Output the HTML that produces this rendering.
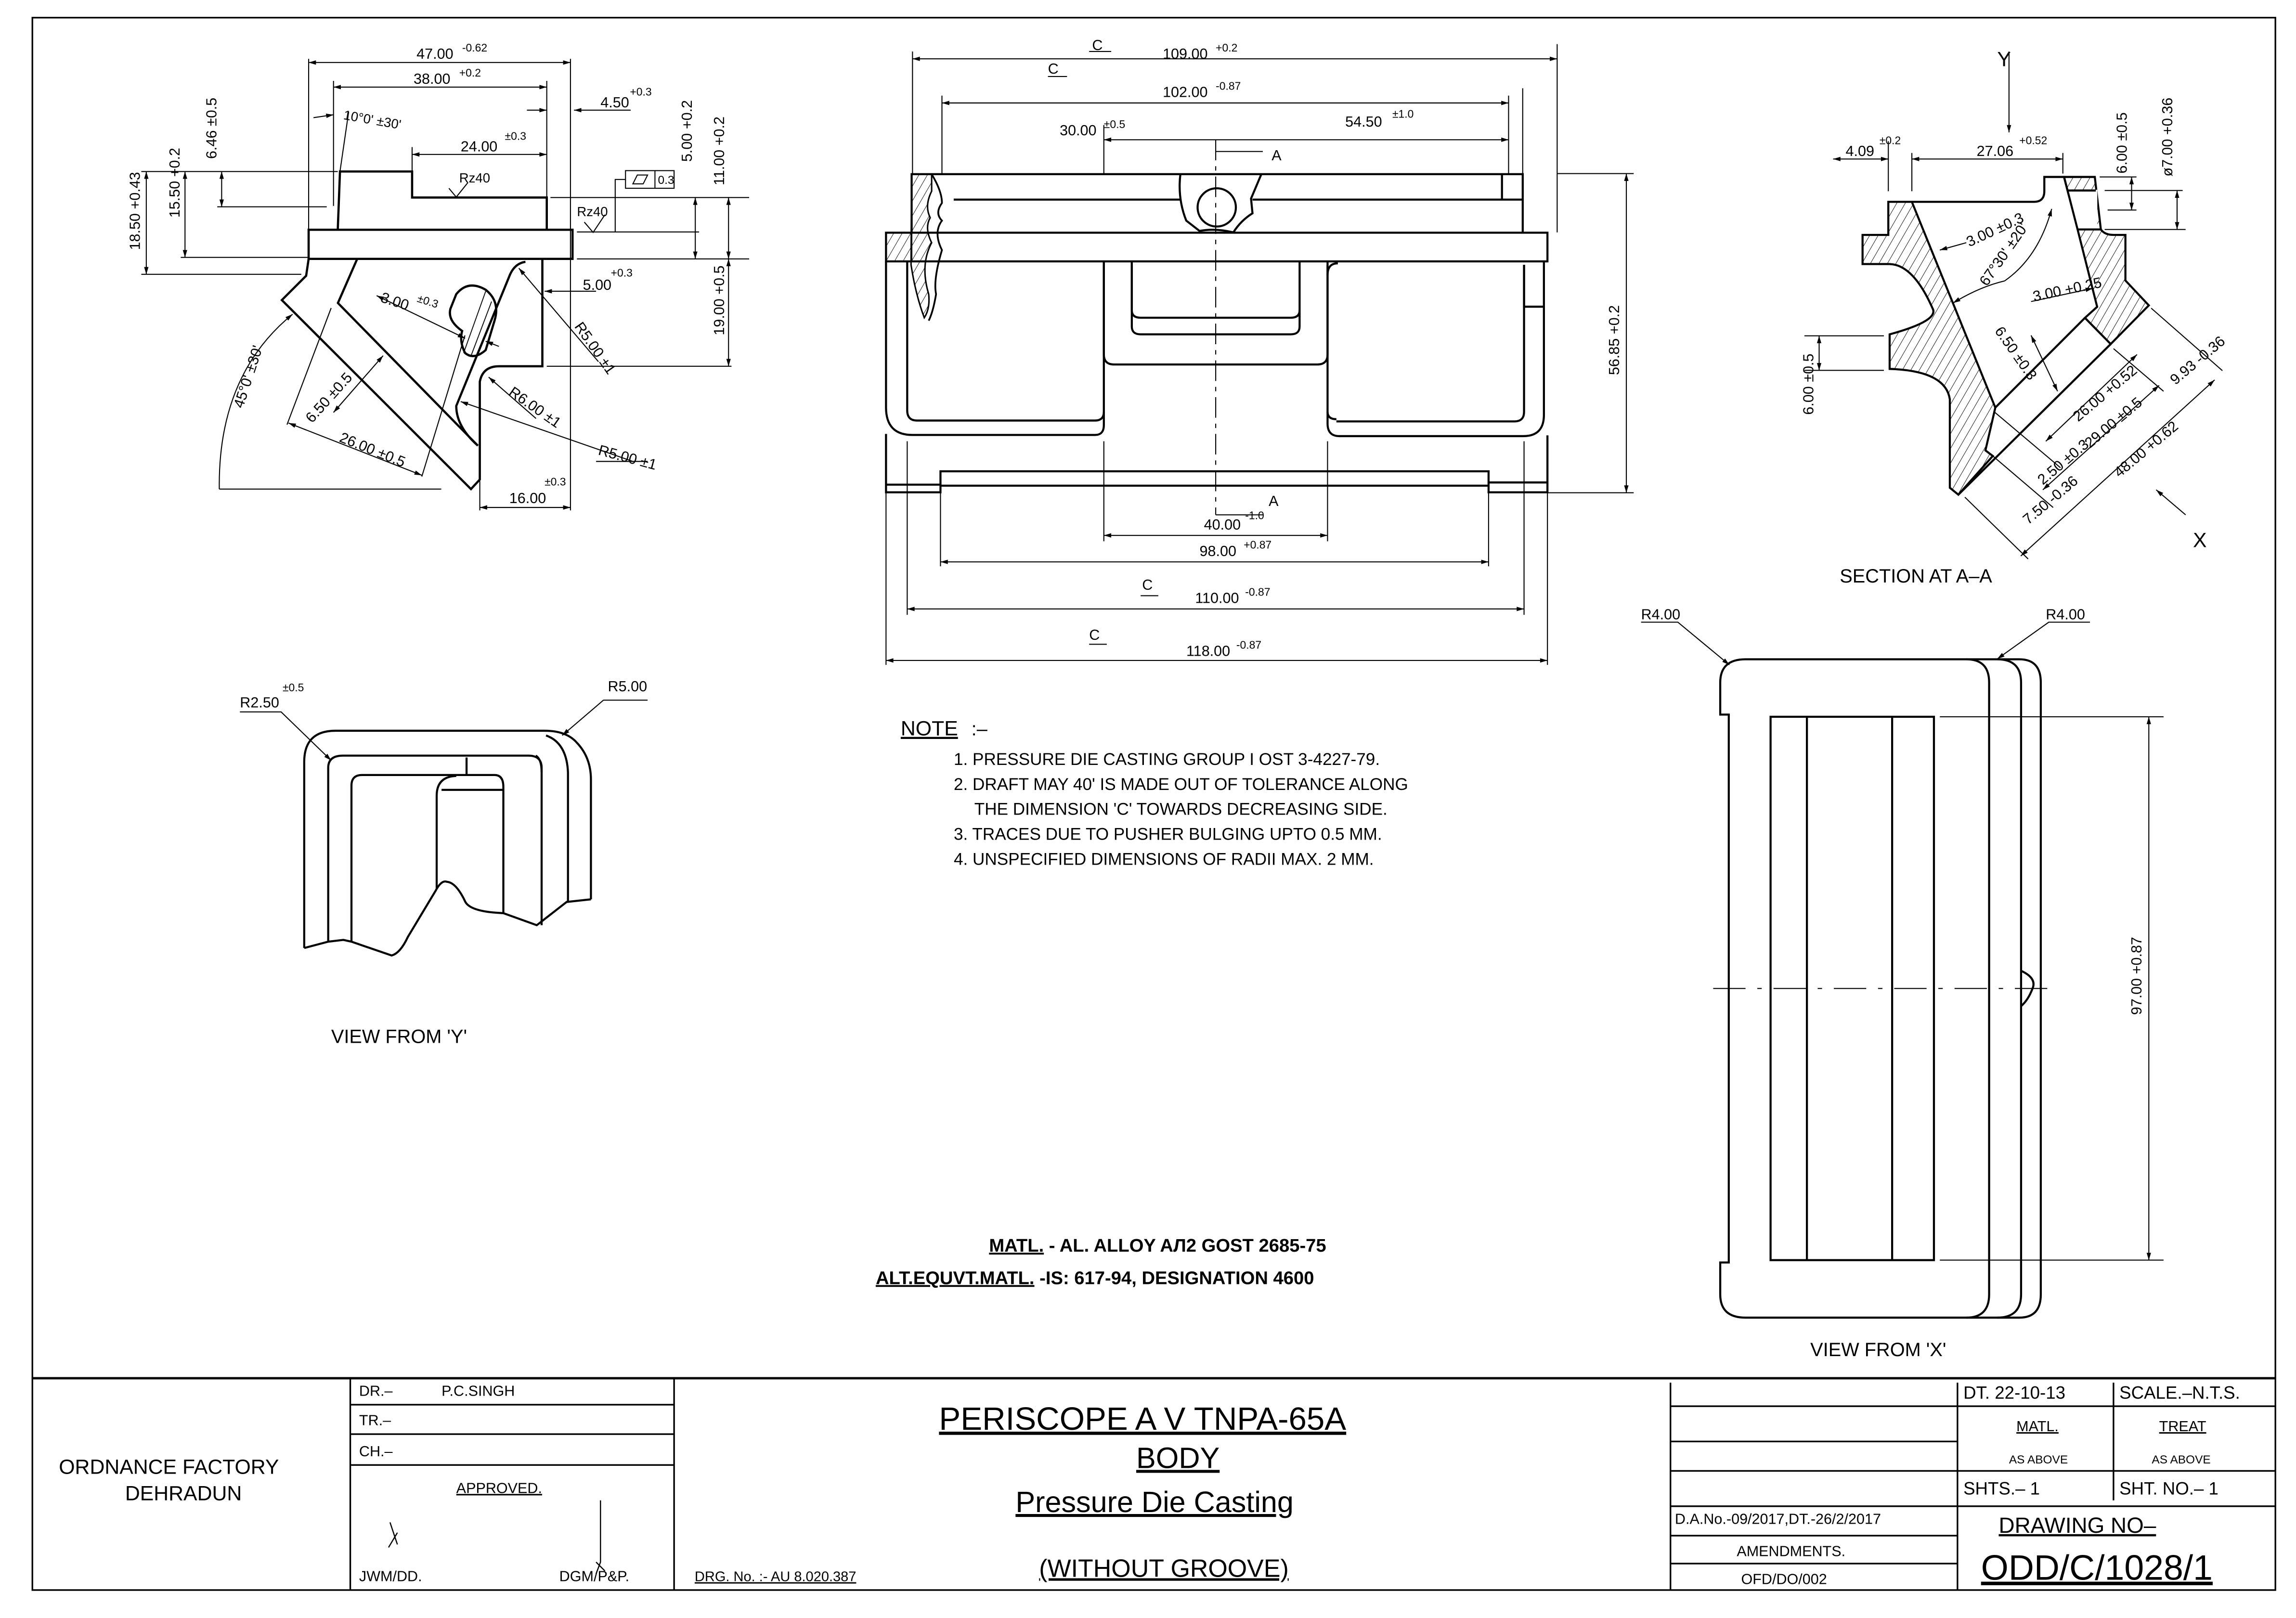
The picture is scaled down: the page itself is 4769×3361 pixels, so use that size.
<!DOCTYPE html>
<html><head><meta charset="utf-8"><style>
html,body{margin:0;padding:0;background:#fff;}
svg{display:block;}
text{font-family:"Liberation Sans",sans-serif;fill:#000;}
</style></head><body>
<svg width="4769" height="3361" viewBox="0 0 1560 1100" preserveAspectRatio="none" xmlns="http://www.w3.org/2000/svg">
<defs>
<marker id="a" viewBox="0 0 10 6" refX="10" refY="3" markerWidth="7" markerHeight="3" markerUnits="userSpaceOnUse" orient="auto-start-reverse"><path d="M0,0 L10,3 L0,6 z" fill="#000"/></marker>
<pattern id="h" width="5" height="5" patternUnits="userSpaceOnUse" patternTransform="rotate(30)"><line x1="0" y1="0" x2="0" y2="5" stroke="#000" stroke-width="0.6"/></pattern>
</defs>
<rect x="0" y="0" width="1560" height="1100" fill="#fff"/>
<g fill="none" stroke="#000" stroke-width="1.1">
<!-- frame -->
<rect x="22" y="12" width="1524" height="1069"/>
<line x1="22" y1="937" x2="1546" y2="937" stroke-width="1.6"/>
<line x1="238" y1="937" x2="238" y2="1081"/>
<line x1="458" y1="937" x2="458" y2="1081"/>
<line x1="1135" y1="940" x2="1135" y2="1081"/>
<line x1="1330" y1="940" x2="1330" y2="1081"/>
<line x1="1436" y1="940" x2="1436" y2="1020"/>
<line x1="238" y1="955" x2="458" y2="955"/>
<line x1="238" y1="975" x2="458" y2="975"/>
<line x1="238" y1="996" x2="458" y2="996"/>
<line x1="1135" y1="956" x2="1546" y2="956"/>
<line x1="1135" y1="980" x2="1330" y2="980"/>
<line x1="1135" y1="1000" x2="1546" y2="1000"/>
<line x1="1135" y1="1024" x2="1546" y2="1024"/>
<line x1="1135" y1="1044" x2="1330" y2="1044"/>
<line x1="1135" y1="1063" x2="1330" y2="1063"/>
<path d="M265,1035 l5,15 M270,1042 l-6,10" stroke-width="0.8"/>
<path d="M408,1020 V1062 l-3,8 M405,1062 l6,6" stroke-width="0.8"/>

<!-- ===== top-left view ===== -->
<g stroke-width="1.5">
<path d="M229.5,156 L231,116.6 H280 V134.3 H371.5 V156"/>
<rect x="209.7" y="156.2" width="179.3" height="19.8"/>
<path d="M209.7,176 L208,187.5 L191.5,204 L320,332.5 L326,326 V259.5 Q328,249 339,249 H368.5 V176.5"/>
<path d="M242.7,176 L229.6,206 L324.7,303 Q310,290 310,276 L346.6,186.5 Q350,179 357,178"/>
<path d="M310,200 Q318,190 330,197 Q340,205 336,218 L330,238 Q322,245 316,240 Q312,232 314,225 Q304,218 306,210 Z"/>
</g>
<line x1="330" y1="198" x2="315" y2="240" stroke-width="0.6"/>
<line x1="334" y1="205" x2="320" y2="242" stroke-width="0.6"/>
<g stroke-width="0.7">
<line x1="209.7" y1="40" x2="209.7" y2="156"/><line x1="387.6" y1="40" x2="387.6" y2="347"/>
<line x1="226.6" y1="55" x2="226.6" y2="140"/><line x1="371.5" y1="55" x2="371.5" y2="134"/>
<line x1="280" y1="100" x2="280" y2="116"/>
<line x1="96" y1="116.6" x2="229.5" y2="116.6"/><line x1="147.6" y1="140.6" x2="222" y2="140.6"/>
<line x1="122.8" y1="175" x2="209" y2="175"/><line x1="96" y1="186.5" x2="204.7" y2="186.5"/>
<line x1="374" y1="134.3" x2="509" y2="134.3"/><line x1="392" y1="157.7" x2="475" y2="157.7"/>
<line x1="392" y1="176" x2="509" y2="176"/><line x1="371.5" y1="249" x2="497" y2="249"/>
<line x1="326" y1="327" x2="326" y2="347"/>
<line x1="149" y1="332.5" x2="299.8" y2="332.5"/>
<line x1="195" y1="288.7" x2="225" y2="209.4"/><line x1="286.6" y1="324" x2="315.9" y2="228"/>
<line x1="231" y1="116.6" x2="236.9" y2="76"/>
<rect x="425" y="116" width="33" height="12"/><line x1="445" y1="116" x2="445" y2="128"/>
<path d="M430,125 l3,-6 h7 l-3,6 z"/>
<path d="M425,122 H418 V157.7"/>
<path d="M305,128 l5,6 l8,-10 M397,151 l6,7 l8,-12"/>
</g>
<g stroke-width="0.7" marker-start="url(#a)" marker-end="url(#a)">
<line x1="209.7" y1="42.5" x2="387.6" y2="42.5"/>
<line x1="226.6" y1="59.2" x2="371.5" y2="59.2"/>
<line x1="280" y1="105" x2="371.5" y2="105"/>
<line x1="99.4" y1="116.6" x2="99.4" y2="186.5"/>
<line x1="125.7" y1="116.6" x2="125.7" y2="175"/>
<line x1="150.6" y1="116.6" x2="150.6" y2="140.6"/>
<line x1="472.4" y1="134.3" x2="472.4" y2="176"/>
<line x1="495" y1="134.3" x2="495" y2="176"/>
<line x1="495" y1="176" x2="495" y2="249"/>
<line x1="326" y1="345" x2="387.6" y2="345"/>
<line x1="196" y1="287.6" x2="286.6" y2="323.1"/>
<line x1="226.6" y1="280.4" x2="260.3" y2="241.8"/>
<line x1="255.9" y1="201" x2="316" y2="230"/>
</g>
<g stroke-width="0.7" marker-end="url(#a)">
<line x1="428.5" y1="74.9" x2="390" y2="74.9"/><line x1="358" y1="74.9" x2="371.5" y2="74.9"/>
<line x1="213" y1="80" x2="226.6" y2="78"/>
<line x1="406.6" y1="245.9" x2="352.5" y2="182.3"/>
<line x1="364.2" y1="284.5" x2="332" y2="256.4"/>
<line x1="430" y1="313.7" x2="313" y2="273"/>
<line x1="405" y1="198" x2="370" y2="198"/>
<path d="M149,332.5 Q148,255 198.8,213.6"/>
<line x1="339" y1="235.5" x2="330" y2="232"/>
</g>
<line x1="405" y1="313.7" x2="440" y2="313.7" stroke-width="0.7"/>

<!-- ===== center view ===== -->
<g stroke-width="1.4">
<path d="M619.4,158.2 V118.4 H1034.6 V158.2"/>
<path d="M648,135.7 H802 M851,135.7 H1034.6"/>
<line x1="1020.5" y1="118.4" x2="1020.5" y2="135.7"/>
<rect x="602" y="158.2" width="449.4" height="19.5"/>
<path d="M802,118.4 Q800,135 806,150 L815,157 Q826,155 838,158 Q843,150 851,145 L850,135 Q853,128 857,118.4"/>
<ellipse cx="826.7" cy="141" rx="13" ry="13"/>
<path d="M602,177.7 V277 Q602,295.7 620,295.7 H744 Q750,295.7 750,289 V177.7"/>
<path d="M616.4,177.7 V279 Q616.4,285.9 623,285.9 H744 Q750,285.9 750,280"/>
<path d="M750,177.7 V241 Q750,247.8 757,247.8 H895 Q902,247.8 902,241 V177.7"/>
<path d="M769,177.7 V222 Q769,227.3 775,227.3 H877 Q883,227.3 883,222 V177.7"/>
<path d="M769,177.7 V211 Q769,216 775,216 H877 Q883,216 883,211"/>
<path d="M902,180 V288 Q902,296.5 910,296.5 H1035 Q1049,296.5 1049,282 V177.7"/>
<path d="M902,187 Q902,179 909,179 M908,285 Q902,285 902,280 M908,286.5 H1029 Q1035.5,286.5 1035.5,280 V180"/>
<path d="M1035.5,180 V208.5 H1049"/>
<path d="M602,295 V334.7 H639 V320.4 H1011.4 V334.7 H1051.4 V296"/>
<line x1="602" y1="329.5" x2="639" y2="329.5"/><line x1="639" y1="330.2" x2="1011.4" y2="330.2"/>
<line x1="1011.4" y1="328" x2="1051.4" y2="328"/>
</g>
<path d="M619.4,118.4 H633 V130 Q628,140 632,148 Q628,155 633,165 Q625,180 631,200 Q632,210 628,216 Q622,200 619,180 Z M602,158.2 H619.4 V177.7 H602 Z" fill="url(#h)" stroke="#000" stroke-width="1"/>
<path d="M633,118.4 Q640,130 640,138 Q635,145 640,150 Q634,158 640,170 Q634,190 636,200 Q634,212 631,218" stroke-width="1.2"/>
<line x1="826" y1="95" x2="826" y2="350" stroke-dasharray="14,4,3,4" stroke-width="0.7"/>
<g stroke-width="0.7">
<line x1="620" y1="35" x2="620" y2="118"/><line x1="1034.6" y1="60" x2="1034.6" y2="118"/>
<line x1="1058" y1="30" x2="1058" y2="158"/><line x1="640" y1="65" x2="640" y2="118"/>
<line x1="750" y1="85" x2="750" y2="118"/><line x1="1025" y1="65" x2="1025" y2="118"/>
<line x1="1051.4" y1="335" x2="1110" y2="335"/><line x1="1058" y1="118" x2="1110" y2="118"/>
<line x1="639" y1="335" x2="639" y2="385"/><line x1="1011.4" y1="335" x2="1011.4" y2="385"/>
<line x1="616.4" y1="300" x2="616.4" y2="418"/><line x1="1035.5" y1="300" x2="1035.5" y2="418"/>
<line x1="602" y1="335" x2="602" y2="452"/><line x1="1051.4" y1="335" x2="1051.4" y2="452"/>
<line x1="750" y1="300" x2="750" y2="368"/><line x1="902" y1="300" x2="902" y2="368"/>
<line x1="826" y1="350" x2="858" y2="350"/><line x1="826" y1="103" x2="858" y2="103"/>
<line x1="740" y1="35" x2="755" y2="35"/><line x1="712" y1="52" x2="725" y2="52"/>
<line x1="775" y1="405" x2="787" y2="405"/><line x1="740" y1="438" x2="752" y2="438"/>
</g>
<g stroke-width="0.7" marker-start="url(#a)" marker-end="url(#a)">
<line x1="620" y1="40" x2="1058" y2="40"/>
<line x1="640" y1="70" x2="1025" y2="70"/>
<line x1="750" y1="95" x2="1025" y2="95"/>
<line x1="1105" y1="118" x2="1105" y2="335"/>
<line x1="750" y1="364" x2="902" y2="364"/>
<line x1="639" y1="382" x2="1011.4" y2="382"/>
<line x1="616.4" y1="414" x2="1035.5" y2="414"/>
<line x1="602" y1="449" x2="1051.4" y2="449"/>
</g>

<!-- ===== section A-A ===== -->
<path d="M1283,137.2 H1299 L1355.7,277.1 L1349,306.2 L1354,310 L1330.6,336.3 L1324.8,331.6 V271.5 Q1322,252 1283.9,250.8 V227.3 Q1318,218 1313,209.5 Q1300,180 1283.9,179.5 H1265.5 V159.7 H1283 Z" fill="url(#h)" stroke-width="1.4"/>
<path d="M1402.4,120.3 H1423.3 L1427.4,156 Q1430,159.7 1436,159.7 H1444.1 V190.7 L1460,207.6 L1434.1,233.9 L1416.6,216.1 L1424.9,208.6 L1411.6,156 Z" fill="url(#h)" stroke-width="1.4"/>
<rect x="1405" y="129" width="20" height="27" fill="#fff" stroke="none"/>
<g stroke-width="1.4">
<path d="M1299,137.2 H1382 Q1389,137.2 1389,130 V120.3 H1402.4 L1411.6,156"/>
<line x1="1405" y1="129.5" x2="1424" y2="129.5"/><line x1="1411.6" y1="156" x2="1427.4" y2="156"/>
<path d="M1416.6,216.1 L1355.7,277.1 M1434.1,233.9 L1330.6,336.3"/>
</g>
<g stroke-width="0.7">
<line x1="1283" y1="96" x2="1283" y2="130"/><line x1="1299" y1="104" x2="1299" y2="130"/><line x1="1401.6" y1="104" x2="1401.6" y2="118"/>
<line x1="1426.6" y1="120.3" x2="1451.6" y2="120.3"/><line x1="1432" y1="142.8" x2="1451.6" y2="142.8"/>
<line x1="1430" y1="129.5" x2="1483" y2="129.5"/><line x1="1430" y1="156" x2="1485" y2="156"/>
<line x1="1226" y1="228.3" x2="1280" y2="228.3"/><line x1="1226" y1="251.8" x2="1280" y2="251.8"/>
<line x1="1461.6" y1="209.5" x2="1510" y2="252"/><line x1="1436" y1="237" x2="1470" y2="266"/>
<line x1="1335" y1="338" x2="1378" y2="380"/><line x1="1355" y1="280" x2="1400" y2="318"/>
<line x1="1354" y1="310" x2="1395" y2="345"/>
<line x1="1365" y1="35" x2="1365" y2="90" marker-end="url(#a)"/>
<line x1="1485" y1="350" x2="1465" y2="333" marker-end="url(#a)"/>
<path d="M1362,191 Q1385,175 1394,142" marker-end="url(#a)"/>
<path d="M1362,191 Q1345,195 1327,206" marker-end="url(#a)"/>
<line x1="1336" y1="165" x2="1318" y2="170" marker-end="url(#a)"/>
<line x1="1380" y1="205" x2="1422" y2="196" marker-end="url(#a)"/>
</g>
<g stroke-width="0.7" marker-start="url(#a)" marker-end="url(#a)">
<line x1="1245.5" y1="108.1" x2="1283" y2="108.1"/>
<line x1="1299" y1="108.1" x2="1401.6" y2="108.1"/>
<line x1="1448.3" y1="120.3" x2="1448.3" y2="142.8"/>
<line x1="1479.2" y1="129.5" x2="1479.2" y2="156"/>
<line x1="1236" y1="228.3" x2="1236" y2="251.8"/>
<line x1="1504.7" y1="258.3" x2="1373" y2="378"/>
<line x1="1467" y1="262" x2="1388" y2="333"/>
<line x1="1452" y1="241" x2="1390" y2="300"/>
<line x1="1380" y1="228" x2="1398" y2="266"/>
</g>

<!-- ===== view X ===== -->
<g stroke-width="1.4">
<path d="M1174.6,485.8 H1168.8 V464 Q1168.8,448.2 1186,448.2 H1336 Q1351.5,448.2 1351.5,464 V880 Q1351.5,895.8 1336,895.8 H1186 Q1168.8,895.8 1168.8,880 V858.3 H1174.6 Z"/>
<path d="M1336,448.2 H1357 Q1373.2,448.2 1373.2,464 V880 Q1373.2,895.8 1357,895.8 H1336"/>
<path d="M1357,448.2 H1372 Q1386.6,448.2 1386.6,464 V880 Q1386.6,895.8 1372,895.8 H1357"/>
<rect x="1203" y="487.3" width="111" height="369.4"/>
<line x1="1227.7" y1="487.3" x2="1227.7" y2="856.7"/><line x1="1285.6" y1="487.3" x2="1285.6" y2="856.7"/>
<path d="M1373.2,660 Q1384,665 1381,672 Q1378,680 1373.2,684"/>
</g>
<g stroke-width="0.7">
<line x1="1164" y1="672" x2="1395" y2="672" stroke-dasharray="22,8,3,8"/>
<line x1="1318" y1="487.3" x2="1470" y2="487.3"/><line x1="1318" y1="856.7" x2="1470" y2="856.7"/>
<line x1="1460" y1="487.3" x2="1460" y2="856.7" marker-start="url(#a)" marker-end="url(#a)"/>
<path d="M1115,423 H1140 L1175,452" marker-end="url(#a)"/>
<path d="M1420,423 H1392 L1357,448" marker-end="url(#a)"/>
</g>

<!-- ===== view Y ===== -->
<g stroke-width="1.4">
<path d="M206.7,644.5 V518 Q206.7,496.8 228,496.8 H370 Q385,496.8 392,505 Q401.5,515 401.5,530 V611.4"/>
<path d="M223,640.2 V522 Q223,513.7 233,513.7 H359 Q368,513.7 368,522 V629"/>
<path d="M364,513.7 Q368,516 368,525"/>
<path d="M238.8,640.2 V534 Q238.8,526.9 246,526.9 H336 Q342,526.9 342,535 V620.8"/>
<path d="M296.7,604 V541 Q296.7,528 310,527.5 M300,537 H342 M317,515 V527"/>
<path d="M371,500 Q385,505 385.9,525 V613"/>
<path d="M206.7,644.5 L223,640.2 L233.3,639 L238.8,640.2 L266.1,649.6 Q272,648 277.1,637 L295.9,605.7 Q300,598 303.7,599.5 Q310,600 316.2,613.2 Q320,620 342,620.8 L364.7,629 L385,613.2 L401.5,611.4"/>
</g>
<g stroke-width="0.7" marker-end="url(#a)">
<path d="M163,484 H191 L225,517"/>
<path d="M440,476 H410 L382,500"/>
</g>
</g>

<g font-size="10">
<text x="283" y="40">47.00</text><text x="314" y="35" font-size="7.5">-0.62</text>
<text x="281" y="57">38.00</text><text x="312" y="52" font-size="7.5">+0.2</text>
<text x="233" y="81" font-size="9" transform="rotate(10 233 81)">10°0' ±30'</text>
<text x="408" y="73">4.50</text><text x="428" y="65" font-size="7.5">+0.3</text>
<text x="313" y="103">24.00</text><text x="343" y="95" font-size="7.5">±0.3</text>
<text x="312" y="124" font-size="9">Rz40</text><text x="392" y="147" font-size="9">Rz40</text>
<text x="447" y="125" font-size="8">0.3</text>
<text x="396" y="197">5.00</text><text x="415" y="188" font-size="7.5">+0.3</text>
<text x="258" y="205" transform="rotate(18 258 205)">3.00</text><text x="283" y="205" font-size="7.5" transform="rotate(18 283 205)">±0.3</text>
<text x="346" y="342">16.00</text><text x="370" y="330" font-size="7.5">±0.3</text>
<text x="345" y="268" transform="rotate(35 345 268)">R6.00 ±1</text>
<text x="406" y="309" transform="rotate(15 406 309)">R5.00 ±1</text>
<text x="390" y="222" transform="rotate(55 390 222)">R5.00 ±1</text>
<text x="230" y="300" transform="rotate(22 230 300)">26.00 ±0.5</text>
<text x="212" y="288" transform="rotate(-48 212 288)">6.50 ±0.5</text>
<text x="165" y="278" transform="rotate(-72 165 278)">45°0' ±30'</text>
<text x="95" y="170" transform="rotate(-90 95 170)">18.50 +0.43</text>
<text x="122" y="148" transform="rotate(-90 122 148)">15.50 +0.2</text>
<text x="147" y="108" transform="rotate(-90 147 108)">6.46 ±0.5</text>
<text x="470" y="110" transform="rotate(-90 470 110)">5.00 +0.2</text>
<text x="492" y="126" transform="rotate(-90 492 126)">11.00 +0.2</text>
<text x="492" y="228" transform="rotate(-90 492 228)">19.00 +0.5</text>

<text x="742" y="34">C</text><text x="790" y="40">109.00</text><text x="826" y="35" font-size="7.5">+0.2</text>
<text x="712" y="50">C</text><text x="790" y="66">102.00</text><text x="826" y="61" font-size="7.5">-0.87</text>
<text x="720" y="92">30.00</text><text x="750" y="87" font-size="7.5">±0.5</text>
<text x="914" y="86">54.50</text><text x="946" y="80" font-size="7.5">±1.0</text>
<text x="864" y="109">A</text><text x="862" y="344">A</text>
<text x="818" y="360">40.00</text><text x="846" y="353" font-size="7.5">-1.0</text>
<text x="815" y="378">98.00</text><text x="845" y="373" font-size="7.5">+0.87</text>
<text x="776" y="401">C</text><text x="812" y="410">110.00</text><text x="846" y="405" font-size="7.5">-0.87</text>
<text x="740" y="435">C</text><text x="806" y="446">118.00</text><text x="840" y="441" font-size="7.5">-0.87</text>
<text x="1100" y="255" transform="rotate(-90 1100 255)">56.85 +0.2</text>

<text x="1357" y="45" font-size="14">Y</text><text x="1490" y="372" font-size="14">X</text>
<text x="1254" y="106">4.09</text><text x="1277" y="98" font-size="7.5">±0.2</text>
<text x="1343" y="106">27.06</text><text x="1372" y="98" font-size="7.5">+0.52</text>
<text x="1445" y="118" transform="rotate(-90 1445 118)">6.00 ±0.5</text>
<text x="1476" y="120" transform="rotate(-90 1476 120)">ø7.00 +0.36</text>
<text x="1232" y="282" transform="rotate(-90 1232 282)">6.00 ±0.5</text>
<text x="1338" y="168" transform="rotate(-25 1338 168)">3.00 ±0.3</text>
<text x="1350" y="195" transform="rotate(-55 1350 195)">67°30' ±20'</text>
<text x="1382" y="205" transform="rotate(-12 1382 205)">3.00 +0.25</text>
<text x="1355" y="225" transform="rotate(55 1355 225)">6.50 ±0.3</text>
<text x="1412" y="287" transform="rotate(-40 1412 287)">26.00 +0.52</text>
<text x="1420" y="305" transform="rotate(-40 1420 305)">29.00 ±0.5</text>
<text x="1440" y="325" transform="rotate(-40 1440 325)">48.00 +0.62</text>
<text x="1478" y="262" transform="rotate(-40 1478 262)">9.93 -0.36</text>
<text x="1378" y="357" transform="rotate(-40 1378 357)">7.50 -0.36</text>
<text x="1388" y="330" transform="rotate(-40 1388 330)">2.50 ±0.3</text>
<text x="1250" y="396" font-size="13">SECTION AT A–A</text>
<text x="1115" y="421">R4.00</text><text x="1390" y="421">R4.00</text>
<text x="1455" y="690" transform="rotate(-90 1455 690)">97.00 +0.87</text>
<text x="163" y="481">R2.50</text><text x="192" y="470" font-size="7.5">±0.5</text><text x="413" y="470">R5.00</text>
<text x="225" y="709" font-size="13">VIEW FROM 'Y'</text>
<text x="1230" y="922" font-size="13">VIEW FROM 'X'</text>
<text x="612" y="500" font-size="14" text-decoration="underline">NOTE</text><text x="660" y="500" font-size="13">:–</text>
<text x="648" y="520" font-size="11.5">1. PRESSURE DIE CASTING GROUP I OST 3-4227-79.</text>
<text x="648" y="537" font-size="11.5">2. DRAFT MAY 40' IS MADE OUT OF TOLERANCE ALONG</text>
<text x="662" y="554" font-size="11.5">THE DIMENSION 'C' TOWARDS DECREASING SIDE.</text>
<text x="648" y="571" font-size="11.5">3. TRACES DUE TO PUSHER BULGING UPTO 0.5 MM.</text>
<text x="648" y="588" font-size="11.5">4. UNSPECIFIED DIMENSIONS OF RADII MAX. 2 MM.</text>
<text x="672" y="851" font-size="12.5" font-weight="bold" font-family="Liberation Serif"><tspan text-decoration="underline">MATL.</tspan> - AL. ALLOY AЛ2 GOST 2685-75</text>
<text x="595" y="873" font-size="12.5" font-weight="bold" font-family="Liberation Serif"><tspan text-decoration="underline">ALT.EQUVT.MATL.</tspan> -IS: 617-94, DESIGNATION 4600</text>
<text x="40" y="1002" font-size="14">ORDNANCE FACTORY</text><text x="85" y="1020" font-size="14">DEHRADUN</text>
<text x="244" y="949">DR.–</text><text x="300" y="949">P.C.SINGH</text>
<text x="244" y="969">TR.–</text><text x="244" y="990">CH.–</text>
<text x="310" y="1015" text-decoration="underline">APPROVED.</text>
<text x="244" y="1075">JWM/DD.</text><text x="380" y="1075">DGM/P&amp;P.</text>
<text x="472" y="1075" font-size="9.5" text-decoration="underline">DRG. No. :- AU 8.020.387</text>
<text x="638" y="972" font-size="22" text-decoration="underline">PERISCOPE A V TNPA-65A</text>
<text x="772" y="998" font-size="20" text-decoration="underline">BODY</text>
<text x="690" y="1028" font-size="20" text-decoration="underline">Pressure Die Casting</text>
<text x="706" y="1072" font-size="17" text-decoration="underline">(WITHOUT GROOVE)</text>
<text x="1334" y="951" font-size="12">DT. 22-10-13</text><text x="1440" y="951" font-size="12">SCALE.–N.T.S.</text>
<text x="1370" y="973" text-decoration="underline">MATL.</text><text x="1467" y="973" text-decoration="underline">TREAT</text>
<text x="1365" y="995" font-size="8">AS ABOVE</text><text x="1462" y="995" font-size="8">AS ABOVE</text>
<text x="1334" y="1016" font-size="12">SHTS.– 1</text><text x="1440" y="1016" font-size="12">SHT. NO.– 1</text>
<text x="1138" y="1036" font-size="10" font-family="Liberation Serif">D.A.No.-09/2017,DT.-26/2/2017</text>
<text x="1180" y="1058">AMENDMENTS.</text><text x="1183" y="1077">OFD/DO/002</text>
<text x="1358" y="1042" font-size="15" text-decoration="underline">DRAWING NO–</text>
<text x="1346" y="1074" font-size="24" text-decoration="underline">ODD/C/1028/1</text>
</g>
</svg>
</body></html>
